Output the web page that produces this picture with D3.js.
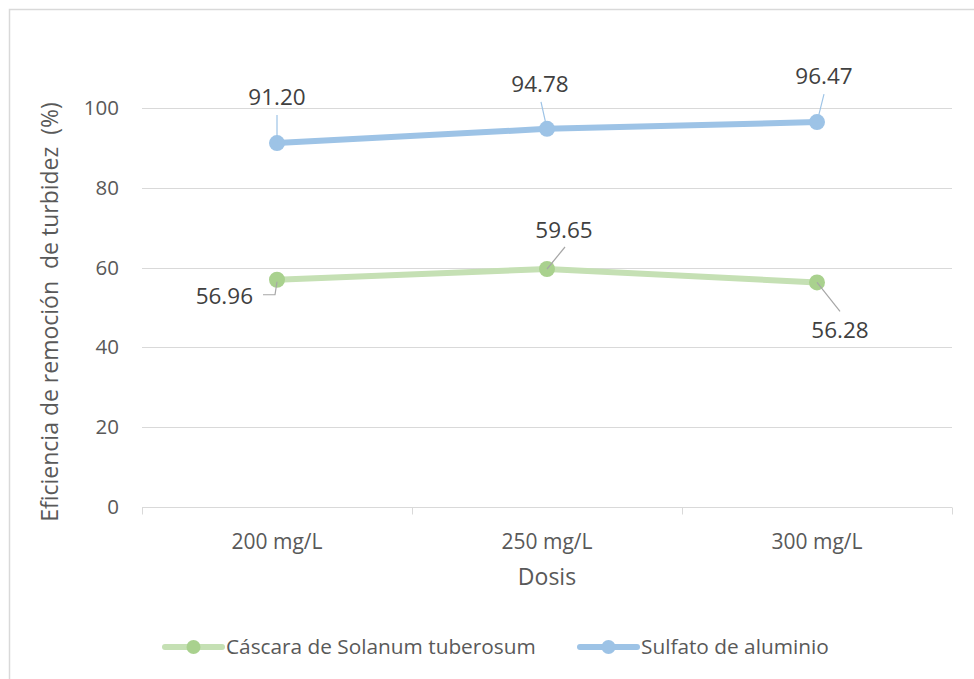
<!DOCTYPE html>
<html>
<head>
<meta charset="utf-8">
<script src="https://cdn.jsdelivr.net/npm/d3@7"></script>
<style>
  html, body { margin: 0; padding: 0; background: #fff; }
  svg { display: block; font-family: "Open Sans", sans-serif; }
  text { white-space: pre; }
</style>
</head>
<body>
<svg id="chart" width="974" height="679"></svg>
<script>
// Dosage categories and removal efficiency (%) per coagulant
const categories = ["200 mg/L", "250 mg/L", "300 mg/L"];
const seriesNames = ["Cáscara de Solanum tuberosum", "Sulfato de aluminio"];
const cascaraValues = [56.96, 59.65, 56.28];
const sulfatoValues = [91.20, 94.78, 96.47];
const yTicks = [0, 20, 40, 60, 80, 100];

// Label placement (offsets from each point, in px) and leader line ends
const labelLayout = {
  cascara: [
    { dx: -24, dy: 24, anchor: "end", leader: [[-14, 15], [-2, 15], [0, 2]] },
    { dx: 17, dy: -31, anchor: "middle", leader: [[18, -22], [0, 0]] },
    { dx: 23, dy: 56, anchor: "middle", leader: [[23, 29], [0, 0]] }
  ],
  sulfato: [
    { dx: 0, dy: -38, anchor: "middle", leader: [[0, -28], [0, 0]] },
    { dx: -7, dy: -37, anchor: "middle", leader: [[-6, -27], [0, 0]] },
    { dx: 7, dy: -38, anchor: "middle", leader: [[7, -28], [0, 0]] }
  ]
};

const svg = d3.select("#chart");
const plot = { left: 142, right: 952, top: 108, bottom: 507 };

// outer chart frame
svg.append("rect")
  .attr("x", 9.5).attr("y", 9.5)
  .attr("width", 1000).attr("height", 1000)
  .attr("fill", "#fff").attr("stroke", "#D9D9D9").attr("stroke-width", 1.5);

const x = d3.scaleBand().domain(categories).range([plot.left, plot.right]);
const y = d3.scaleLinear().domain([0, 100]).range([plot.bottom, plot.top]);

// horizontal gridlines
svg.append("g").selectAll("line")
  .data(yTicks.filter(t => t > 0))
  .join("line")
  .attr("x1", plot.left).attr("x2", plot.right)
  .attr("y1", d => Math.round(y(d)) + 0.5).attr("y2", d => Math.round(y(d)) + 0.5)
  .attr("stroke", "#D9D9D9").attr("stroke-width", 1);

// y axis labels
const yAxis = d3.axisLeft(y).tickValues(yTicks).tickSize(0).tickPadding(23);
svg.append("g")
  .attr("transform", `translate(${plot.left},0)`)
  .call(yAxis)
  .call(g => g.select(".domain").remove())
  .call(g => g.selectAll("text")
    .attr("fill", "#595959").attr("font-size", 20.5)
    .attr("font-family", "Open Sans, sans-serif"));

// x axis with category boundary ticks
const xAxisG = svg.append("g")
  .attr("transform", `translate(0,${Math.round(y(0)) + 0.5})`);
xAxisG.append("line")
  .attr("x1", plot.left).attr("x2", plot.right)
  .attr("stroke", "#D9D9D9").attr("stroke-width", 1);
const boundaries = categories.map(c => x(c)).concat([x(categories[categories.length - 1]) + x.bandwidth()]);
xAxisG.selectAll("line.tick")
  .data(boundaries)
  .join("line").attr("class", "tick")
  .attr("x1", d => Math.round(d) + 0.5).attr("x2", d => Math.round(d) + 0.5)
  .attr("y1", 0).attr("y2", 7)
  .attr("stroke", "#D9D9D9");
xAxisG.selectAll("text")
  .data(categories)
  .join("text")
  .attr("x", d => x(d) + x.bandwidth() / 2)
  .attr("y", 41)
  .attr("text-anchor", "middle")
  .attr("fill", "#595959").attr("font-size", 21)
  .text(d => d);

// axis titles
svg.append("text")
  .attr("x", x(categories[1]) + x.bandwidth() / 2)
  .attr("y", 585)
  .attr("text-anchor", "middle")
  .attr("fill", "#595959").attr("font-size", 23)
  .text("Dosis");

svg.append("text")
  .attr("transform", "translate(58,312) rotate(-90)")
  .attr("text-anchor", "middle")
  .attr("fill", "#595959").attr("font-size", 23)
  .text("Eficiencia de remoción  de turbidez  (%)");

// series
const series = [
  { key: "cascara", name: seriesNames[0], values: cascaraValues, line: "#C5E0B4", marker: "#A9D18E", leader: "#A6A6A6" },
  { key: "sulfato", name: seriesNames[1], values: sulfatoValues, line: "#9DC3E6", marker: "#9DC3E6", leader: "#9DC3E6" }
];

const cx = c => x(c) + x.bandwidth() / 2;
const line = d3.line().x(d => cx(d.cat)).y(d => y(d.v));

series.forEach(s => {
  const pts = categories.map((c, i) => ({ cat: c, v: s.values[i] }));
  const g = svg.append("g");
  g.append("path")
    .datum(pts)
    .attr("d", line)
    .attr("fill", "none")
    .attr("stroke", s.line)
    .attr("stroke-width", 6)
    .attr("stroke-linejoin", "round")
    .attr("stroke-linecap", "round");
  g.selectAll("circle")
    .data(pts)
    .join("circle")
    .attr("cx", d => cx(d.cat)).attr("cy", d => y(d.v))
    .attr("r", 8)
    .attr("fill", s.marker);

  // leader lines and value labels
  pts.forEach((d, i) => {
    const L = labelLayout[s.key][i];
    const px = cx(d.cat), py = y(d.v);
    g.append("path")
      .attr("d", d3.line()(L.leader.map(p => [px + p[0], py + p[1]])))
      .attr("fill", "none")
      .attr("stroke", s.leader)
      .attr("stroke-width", 1.2);
    g.append("text")
      .attr("x", px + L.dx).attr("y", py + L.dy)
      .attr("text-anchor", L.anchor)
      .attr("fill", "#404040").attr("font-size", 22.5)
      .text(d.v.toFixed(2));
  });
});

// legend
const legendItems = [
  { s: series[0], x: 165 },
  { s: series[1], x: 580 }
];
const legendY = 647;
const lg = svg.append("g");
legendItems.forEach(item => {
  lg.append("line")
    .attr("x1", item.x).attr("x2", item.x + 57)
    .attr("y1", legendY).attr("y2", legendY)
    .attr("stroke", item.s.line).attr("stroke-width", 6)
    .attr("stroke-linecap", "round");
  lg.append("circle")
    .attr("cx", item.x + 28.5).attr("cy", legendY).attr("r", 7)
    .attr("fill", item.s.marker);
  lg.append("text")
    .attr("x", item.x + 61).attr("y", legendY + 7)
    .attr("fill", "#595959").attr("font-size", 20.8)
    .text(item.s.name);
});
</script>
</body>
</html>
